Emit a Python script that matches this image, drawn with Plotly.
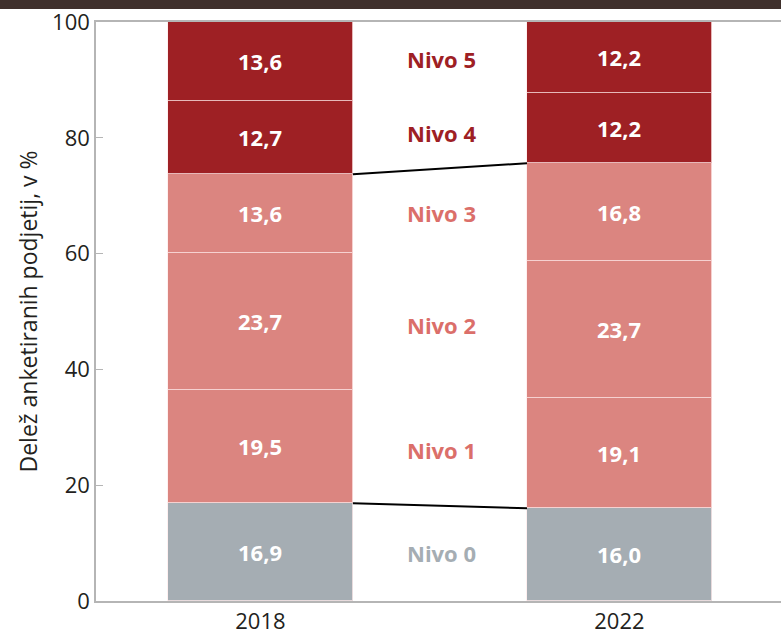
import plotly.graph_objects as go
import numpy as np

years = ["2018", "2022"]
levels = ["Nivo 0", "Nivo 1", "Nivo 2", "Nivo 3", "Nivo 4", "Nivo 5"]
vals_2018 = [16.9, 19.5, 23.7, 13.6, 12.7, 13.6]
vals_2022 = [16.0, 19.1, 23.7, 16.8, 12.2, 12.2]
yticks = [0, 20, 40, 60, 80, 100]

bar_colors = ["#a5adb3", "#db8580", "#db8580", "#db8580", "#9e2024", "#9e2024"]
label_colors = ["#a5adb3", "#db6f6a", "#db6f6a", "#db6f6a", "#9e2024", "#9e2024"]

xpos = [0, 1]
bw = 0.515
FONT = "Open Sans"

def fmt(v):
    return f"{v:.1f}".replace(".", ",")

fig = go.Figure()
for i, lev in enumerate(levels):
    v = [vals_2018[i], vals_2022[i]]
    fig.add_trace(go.Bar(
        x=xpos, y=v, width=bw,
        marker=dict(color=bar_colors[i], line=dict(color="rgba(255,235,235,0.75)", width=1)),
        text=[fmt(a) for a in v], textposition="inside", insidetextanchor="middle",
        textfont=dict(color="white", size=22, family=FONT, weight="bold"),
        showlegend=False, hoverinfo="skip",
    ))

cum18 = np.cumsum(vals_2018)
cum22 = np.cumsum(vals_2022)
# connector lines at top of Nivo 0 and top of Nivo 3
for k in [0, 3]:
    fig.add_trace(go.Scatter(
        x=[xpos[0] + bw / 2, xpos[1] - bw / 2], y=[cum18[k], cum22[k]],
        mode="lines", line=dict(color="black", width=2), showlegend=False, hoverinfo="skip"))

# level labels between the bars
start18 = np.concatenate([[0], cum18[:-1]])
start22 = np.concatenate([[0], cum22[:-1]])
for i, lev in enumerate(levels):
    mid = ((start18[i] + cum18[i]) / 2 + (start22[i] + cum22[i]) / 2) / 2
    fig.add_annotation(x=0.505, y=mid, text=lev, showarrow=False,
                       font=dict(color=label_colors[i], size=22, family=FONT, weight="bold"))

# dark band at top
fig.add_shape(type="rect", xref="paper", yref="paper", x0=-0.2, x1=1.1,
              y0=(579 + 13) / 579, y1=1.1, fillcolor="#3f302c", line=dict(width=0), layer="above")

fig.update_layout(
    width=781, height=636,
    margin=dict(l=96, r=0, t=22, b=35),
    paper_bgcolor="white", plot_bgcolor="white",
    barmode="stack", bargap=0,
    font=dict(family=FONT, color="#231f20"),
)
fig.update_xaxes(
    range=[-0.458, 1.450], tickvals=xpos, ticktext=years,
    tickfont=dict(size=22, color="#231f20"),
    showline=True, linecolor="#b5b5b5", linewidth=1.5, mirror=True,
    ticks="", showgrid=False, zeroline=False,
)
fig.update_yaxes(
    range=[0, 100], tickvals=yticks, ticktext=[str(t) for t in yticks],
    tickfont=dict(size=22, color="#231f20"),
    showline=True, linecolor="#b5b5b5", linewidth=1.5,
    ticks="inside", ticklen=7, tickcolor="#b5b5b5", showgrid=False, zeroline=False,
    title=dict(text="Delež anketiranih podjetij, v %", font=dict(size=23, color="#231f20"), standoff=8),
)

fig.write_html("out.html", config={"displayModeBar": False},
               post_script="document.body.style.margin='0';document.body.style.overflow='hidden';")
